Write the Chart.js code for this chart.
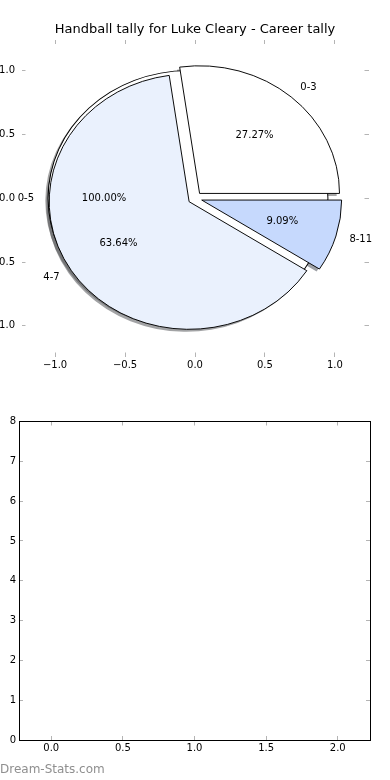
<!DOCTYPE html>
<html>
<head>
<meta charset="utf-8">
<script src="https://cdn.jsdelivr.net/npm/chart.js@4.4.1/dist/chart.umd.min.js"></script>
<style>
  html, body { margin: 0; padding: 0; background: #fff; }
  #wrap { position: relative; width: 390px; height: 780px; overflow: hidden; }
  .layer { position: absolute; left: 0; }
  #watermark { position: absolute; left: 0; top: 762px; font: 12px "DejaVu Sans", sans-serif; color: #8f8f8f; }
</style>
</head>
<body>
<div id="wrap">
  <canvas id="pieAxes" class="layer" style="top:0" width="390" height="390"></canvas>
  <canvas id="pie" class="layer" style="top:0" width="390" height="390"></canvas>
  <canvas id="emptyAxes" class="layer" style="top:390px" width="390" height="390"></canvas>
  <div id="watermark">Dream-Stats.com</div>
</div>
<script>
const chartTitle = 'Handball tally for Luke Cleary - Career tally';

// first pie: one slice, the whole career
const overallLabels = ['0-5'];
const overallValues = [11];

// second pie drawn on top of it
const tallyLabels = ['0-3', '4-7', '8-11'];
const tallyValues = [3, 7, 1];

const pieTicks = [-1.0, -0.5, 0.0, 0.5, 1.0];
const emptyXTicks = [0.0, 0.5, 1.0, 1.5, 2.0];
const emptyYTicks = [0, 1, 2, 3, 4, 5, 6, 7, 8];

Chart.defaults.font.family = '"DejaVu Sans", sans-serif';
Chart.defaults.font.size = 10;
Chart.defaults.color = '#000';

const TICK_GREY = '#b4b4b4';
const EXPLODE = 0.05;
const SHADOW = [-0.02, -0.02];

function fmtSigned(v) {
  const s = Math.abs(v).toFixed(1);
  return v < -1e-9 ? '\u2212' + s : s;
}

// one axis with matplotlib-like inward tick marks
function axis(position, opts) {
  const horizontal = position === 'top' || position === 'bottom';
  return {
    type: 'linear',
    axis: horizontal ? 'x' : 'y',
    position: position,
    min: opts.min,
    max: opts.max,
    afterBuildTicks: s => { s.ticks = opts.ticks.map(v => ({ value: v })); },
    afterFit: s => { if (horizontal) s.height = opts.size; else s.width = opts.size; },
    border: { display: opts.spine, color: '#000', width: 1 },
    grid: { drawOnChartArea: false, tickLength: -4, tickColor: TICK_GREY, tickWidth: 1, color: TICK_GREY },
    ticks: {
      display: !!opts.labels,
      padding: opts.padding || 0,
      maxRotation: 0,
      autoSkip: false,
      callback: opts.labels || (v => v)
    }
  };
}

const axesChart = new Chart(document.getElementById('pieAxes'), {
  type: 'scatter',
  data: { datasets: [{ data: [] }] },
  options: {
    responsive: false,
    animation: false,
    events: [],
    plugins: {
      legend: { display: false },
      tooltip: { enabled: false },
      title: {
        display: true,
        text: chartTitle,
        color: '#000',
        font: { size: 13, weight: 'normal' },
        padding: { top: 22.2, bottom: 2.2 }
      }
    },
    scales: {
      x: axis('bottom', { min: -1.24, max: 1.24, ticks: pieTicks, size: 33.5, spine: false, padding: 6.5, labels: fmtSigned }),
      xTop: axis('top', { min: -1.24, max: 1.24, ticks: pieTicks, size: 0, spine: false }),
      y: axis('left', { min: -1.24, max: 1.24, ticks: pieTicks, size: 21.5, spine: false, padding: 10.5, labels: fmtSigned }),
      yRight: axis('right', { min: -1.24, max: 1.24, ticks: pieTicks, size: 21.5, spine: false })
    }
  }
});

function pieGeometry() {
  const xs = axesChart.scales.x, ys = axesChart.scales.y;
  const cx = xs.getPixelForValue(0), cy = ys.getPixelForValue(0);
  const r = xs.getPixelForValue(1) - cx;
  const k = (cy - ys.getPixelForValue(1)) / r;
  return { xs, ys, cx, cy, r, k };
}

function shadowOf(hex) {
  const n = parseInt(hex.slice(1), 16);
  const c = [(n >> 16) & 255, (n >> 8) & 255, n & 255].map(v => Math.round(v * 0.3));
  return `rgba(${c[0]},${c[1]},${c[2]},0.5)`;
}

// draw the arc element with other options / radii for a moment
function drawAs(ctx, arc, opts, props) {
  const keepOpts = arc.options;
  const keep = {};
  Object.keys(props).forEach(p => { keep[p] = arc[p]; arc[p] = props[p]; });
  arc.options = Object.assign({}, keepOpts, opts);
  arc.draw(ctx);
  arc.options = keepOpts;
  Object.assign(arc, keep);
}

function drawWedge(ctx, arc, g, shift, opts) {
  const mid = (arc.startAngle + arc.endAngle) / 2;
  const dx = EXPLODE * Math.cos(mid) + shift[0];
  const dy = EXPLODE * Math.sin(mid) + shift[1];
  const full = arc.circumference >= Math.PI * 2 - 1e-9;
  ctx.save();
  ctx.translate(dx * g.r, dy * g.r);
  if (full) {
    // no seam line on a whole circle, outline it as a thin ring
    drawAs(ctx, arc, Object.assign({}, opts, { borderWidth: 0 }), {});
    if (opts.borderWidth !== 0) {
      const w = arc.options.borderWidth / 2;
      drawAs(ctx, arc, { backgroundColor: arc.options.borderColor, borderWidth: 0 },
        { innerRadius: g.r - w, outerRadius: g.r + w });
    }
  } else {
    drawAs(ctx, arc, opts, {});
  }
  ctx.restore();
}

const pieOnAxes = {
  id: 'pieOnAxes',
  beforeDatasetsDraw(chart) {
    const g = pieGeometry();
    const ctx = chart.ctx;
    const metas = chart.data.datasets.map((d, i) => chart.getDatasetMeta(i));
    metas.forEach(meta => meta.data.forEach(arc => {
      Object.assign(arc, { x: g.cx, y: g.cy, innerRadius: 0, outerRadius: g.r });
    }));
    ctx.save();
    // ellipse in the axes' units, angles going anticlockwise
    ctx.translate(g.cx, g.cy);
    ctx.scale(1, -g.k);
    ctx.translate(-g.cx, -g.cy);
    metas.forEach(meta => meta.data.forEach(arc => {
      drawWedge(ctx, arc, g, SHADOW, { backgroundColor: shadowOf(arc.options.backgroundColor), borderWidth: 0 });
    }));
    metas.forEach(meta => meta.data.forEach(arc => {
      drawWedge(ctx, arc, g, [0, 0], {});
    }));
    ctx.restore();
    return false;
  },
  afterDraw(chart) {
    const g = pieGeometry();
    const ctx = chart.ctx;
    ctx.save();
    ctx.font = '10px "DejaVu Sans", sans-serif';
    ctx.fillStyle = '#000';
    ctx.textBaseline = 'middle';
    [overallLabels, tallyLabels].forEach((labels, i) => {
      const values = chart.data.datasets[i].data;
      const total = values.reduce((a, b) => a + b, 0);
      chart.getDatasetMeta(i).data.forEach((arc, j) => {
        const mid = (arc.startAngle + arc.endAngle) / 2;
        const c = Math.cos(mid), s = Math.sin(mid);
        const lx = (EXPLODE + 1.1) * c, ly = (EXPLODE + 1.1) * s;
        ctx.textAlign = lx > 0 ? 'left' : 'right';
        ctx.fillText(labels[j], g.xs.getPixelForValue(lx), g.ys.getPixelForValue(ly));
        ctx.textAlign = 'center';
        ctx.fillText((values[j] / total * 100).toFixed(2) + '%',
          g.xs.getPixelForValue((EXPLODE + 0.6) * c), g.ys.getPixelForValue((EXPLODE + 0.6) * s));
      });
    });
    ctx.restore();
  }
};

new Chart(document.getElementById('pie'), {
  type: 'pie',
  data: {
    labels: tallyLabels,
    datasets: [
      { label: 'overall', data: overallValues, backgroundColor: ['#ffffff'] },
      { label: 'tally', data: tallyValues, backgroundColor: ['#ffffff', '#eaf1fd', '#c6d9fd'] }
    ]
  },
  options: {
    responsive: false,
    animation: false,
    events: [],
    rotation: 90,
    elements: { arc: { borderColor: '#000', borderWidth: 1, borderJoinStyle: 'miter' } },
    plugins: { legend: { display: false }, tooltip: { enabled: false } }
  },
  plugins: [pieOnAxes]
});

new Chart(document.getElementById('emptyAxes'), {
  type: 'scatter',
  data: { datasets: [{ data: [] }] },
  options: {
    responsive: false,
    animation: false,
    events: [],
    plugins: { legend: { display: false }, tooltip: { enabled: false } },
    scales: {
      x: axis('bottom', { min: -0.225, max: 2.225, ticks: emptyXTicks, size: 40, spine: true, padding: 6.3, labels: v => v.toFixed(1) }),
      xTop: axis('top', { min: -0.225, max: 2.225, ticks: emptyXTicks, size: 31.5, spine: true }),
      y: axis('left', { min: 0, max: 8, ticks: emptyYTicks, size: 19, spine: true, padding: 7, labels: v => String(v) }),
      yRight: axis('right', { min: 0, max: 8, ticks: emptyYTicks, size: 20, spine: true })
    }
  }
});
</script>
</body>
</html>
